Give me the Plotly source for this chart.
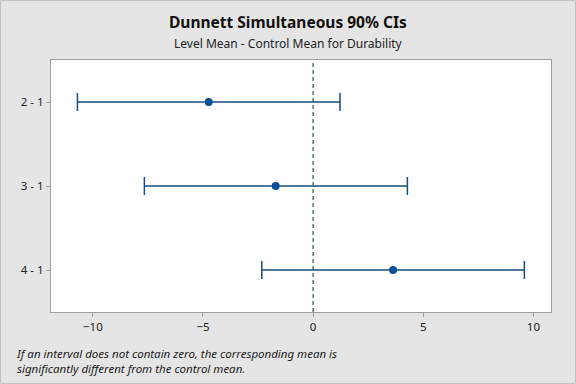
import plotly.graph_objects as go

comparisons = ["2 - 1", "3 - 1", "4 - 1"]
means = [-4.74, -1.70, 3.63]
lower = [-10.70, -7.66, -2.33]
upper = [1.22, 4.28, 9.59]
x_ticks = [-10, -5, 0, 5, 10]

W, H = 576, 384
ml, mr, mt, mb = 51, 25, 60, 72
pw, ph = W - ml - mr, H - mt - mb

line_col = "#174d80"
fig = go.Figure()
fig.add_trace(go.Scatter(
    x=means, y=comparisons, mode="markers",
    marker=dict(color="#0a4f96", size=8, symbol="circle"),
    error_x=dict(type="data", symmetric=False,
                 array=[u - m for u, m in zip(upper, means)],
                 arrayminus=[m - l for m, l in zip(means, lower)],
                 color=line_col, thickness=1.5, width=9),
    showlegend=False, hoverinfo="x+y"))

fig.add_shape(type="line", x0=0, x1=0, y0=0, y1=1, xref="x", yref="paper",
              line=dict(color="#2b6e40", width=1.3, dash="4px,3px"))

# outer frame
fig.add_shape(type="rect", xref="paper", yref="paper",
              x0=(0.5 - ml) / pw, x1=(W - 0.5 - ml) / pw,
              y0=-(H - 0.5 - mt - ph) / ph, y1=(mt - 0.5 + ph) / ph,
              line=dict(color="#c4c4c4", width=1), layer="below")

axis_common = dict(showgrid=False, zeroline=False, showline=True, linecolor="#a0a0a0",
                   linewidth=1.2, mirror=True, ticks="outside", ticklen=4,
                   tickcolor="#a0a0a0", tickfont=dict(size=11.5, color="#222"),
                   automargin=False)

fig.update_layout(
    width=W, height=H,
    margin=dict(l=ml, r=mr, t=mt, b=mb, autoexpand=False),
    paper_bgcolor="#e5e5e5", plot_bgcolor="white",
    font=dict(family="Noto Sans, Open Sans, sans-serif", size=11, color="#222"),
    xaxis=dict(range=[-11.9, 10.8], tickvals=x_ticks, **axis_common),
    yaxis=dict(categoryorder="array", categoryarray=comparisons, autorange=False,
               range=[2.5, -0.5], **axis_common),
    annotations=[
        dict(text="<b>Dunnett Simultaneous 90% CIs</b>", xref="paper", yref="paper",
             x=(288 - ml) / pw, y=1 + (mt - 22) / ph, xanchor="center", yanchor="middle",
             showarrow=False, font=dict(size=15.5, color="#111")),
        dict(text="Level Mean - Control Mean for Durability", xref="paper", yref="paper",
             x=(288 - ml) / pw, y=1 + (mt - 43) / ph, xanchor="center", yanchor="middle",
             showarrow=False, font=dict(size=12, color="#222")),
        dict(text="<i>If an interval does not contain zero, the corresponding mean is<br>significantly different from the control mean.</i>",
             xref="paper", yref="paper", x=(14 - ml) / pw, y=-(344 - mt - ph) / ph,
             xanchor="left", yanchor="top", align="left", showarrow=False,
             font=dict(size=11.5, color="#222")),
    ],
)

fig.write_html("out.html", config={"displayModeBar": False},
               post_script="document.body.style.margin='0';")
